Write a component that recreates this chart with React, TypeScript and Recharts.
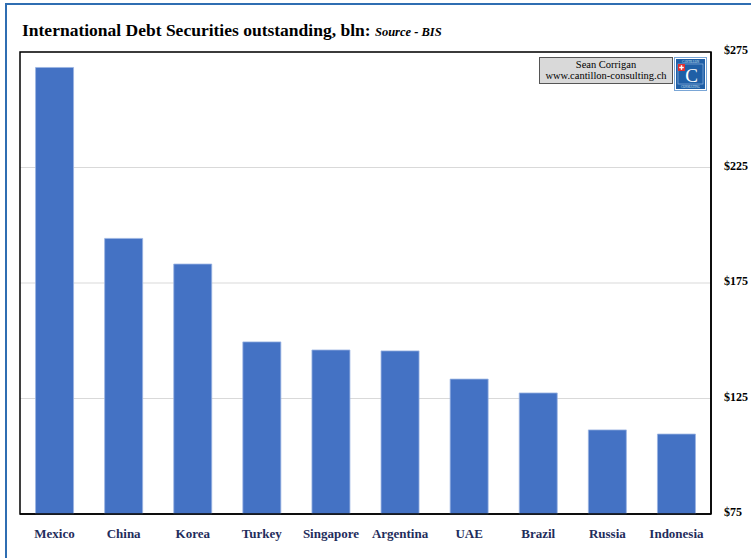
import React from 'react';
import { BarChart, Bar, XAxis, YAxis, CartesianGrid, ReferenceArea } from 'recharts';

// Values (USD bln)
const countries = ['Mexico', 'China', 'Korea', 'Turkey', 'Singapore', 'Argentina', 'UAE', 'Brazil', 'Russia', 'Indonesia'];
const debtOutstanding = [268.3, 194.3, 183.2, 149.5, 146, 145.6, 133.4, 127.4, 111.4, 109.6];
const yTicks = [75, 125, 175, 225, 275];

const data = countries.map((name, i) => ({ name, value: debtOutstanding[i] }));

const serif = '"Liberation Serif", "DejaVu Serif", serif';

const Logo: React.FC = () => (
  <svg width={33} height={34} viewBox="0 0 33 34">
    <rect x={0.5} y={0.5} width={32} height={33} fill="#ffffff" stroke="#7aa6d6" />
    <rect x={2} y={2} width={29} height={30} fill="#1f5fa6" />
    <text x={16.5} y={5.5} fontSize={3} fill="#dce8f6" textAnchor="middle" fontFamily={serif}>CANTILLON</text>
    <rect x={4} y={7} width={25} height={20} fill="none" stroke="#9fc0e6" strokeWidth={0.6} />
    <rect x={4} y={7} width={7} height={7} fill="#e03030" />
    <rect x={6.8} y={8.2} width={1.4} height={4.6} fill="#fff" />
    <rect x={5.2} y={9.8} width={4.6} height={1.4} fill="#fff" />
    <text x={17.5} y={25} fontSize={19} fill="#ffffff" textAnchor="middle" fontFamily={serif}>C</text>
    <text x={16.5} y={30.5} fontSize={3} fill="#dce8f6" textAnchor="middle" fontFamily={serif}>CONSULTING</text>
  </svg>
);

const App: React.FC = () => {
  return (
    <div style={{ position: 'absolute', left: 0, top: 0, width: 751, height: 558, overflow: 'hidden', background: '#fff', fontFamily: serif }}>
      {/* outer blue frame, runs off the right/bottom edge */}
      <div style={{ position: 'absolute', left: 5, top: 3, width: 800, height: 620, border: '2px solid #2f6eb2' }} />

      <div style={{ position: 'absolute', left: 22, top: 20, fontSize: 17.5, fontWeight: 'bold', color: '#000', whiteSpace: 'nowrap' }}>
        International Debt Securities outstanding, bln:{' '}
        <span style={{ fontSize: 12.5, fontStyle: 'italic' }}>Source - BIS</span>
      </div>

      <div style={{ position: 'absolute', left: 0, top: 0 }}>
        <BarChart width={751} height={558} data={data} margin={{ top: 52, right: 0, bottom: 0, left: 20 }} barCategoryGap="22.5%">
          <CartesianGrid vertical={false} stroke="#d9d9d9" strokeWidth={1} />
          <XAxis
            dataKey="name"
            height={44}
            axisLine={{ stroke: '#000', strokeWidth: 1.5 }}
            tickLine={false}
            interval={0}
            tickMargin={9}
            tick={{ fill: '#1f2d5c', fontSize: 13, fontWeight: 'bold', fontFamily: serif }}
          />
          <YAxis
            orientation="right"
            width={40}
            domain={[75, 275]}
            ticks={yTicks}
            interval={0}
            axisLine={{ stroke: '#000', strokeWidth: 1.5 }}
            tickLine={false}
            tickMargin={7}
            tickFormatter={(v: number) => `$${v}`}
            tick={{ fill: '#000', fontSize: 12, fontWeight: 'bold', fontFamily: serif, dy: -2 }}
          />
          <Bar dataKey="value" fill="#4472c4" stroke="#9ab4e2" strokeWidth={0.8} isAnimationActive={false} />
          {/* plot-area frame */}
          <ReferenceArea y1={75} y2={275} fill="none" fillOpacity={0} stroke="#000" strokeWidth={1.5} ifOverflow="visible" />
        </BarChart>
      </div>

      {/* author tag */}
      <div style={{ position: 'absolute', left: 539, top: 57, width: 132, height: 24, background: '#d9d9d9', border: '1px solid #555', fontSize: 10.5, lineHeight: '11px', textAlign: 'center', color: '#000', paddingTop: 1 }}>
        Sean Corrigan<br />www.cantillon-consulting.ch
      </div>
      <div style={{ position: 'absolute', left: 674, top: 57, width: 33, height: 34 }}>
        <Logo />
      </div>
    </div>
  );
};

export default App;
